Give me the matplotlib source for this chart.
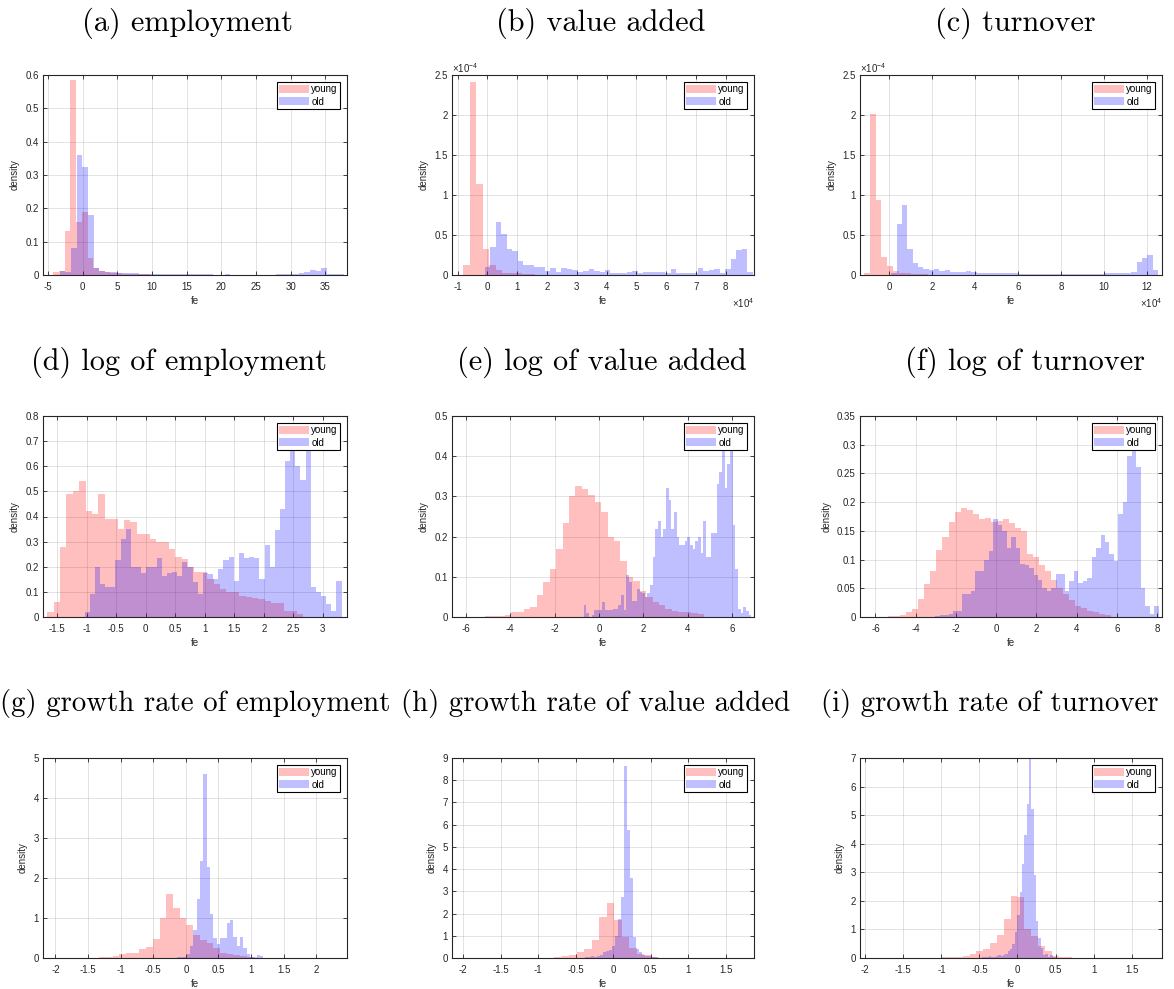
import numpy as np
import matplotlib.pyplot as plt
from matplotlib.ticker import FuncFormatter

plt.rcParams['font.family'] = ['Liberation Sans', 'DejaVu Sans']
plt.rcParams['axes.unicode_minus'] = False
plt.rcParams['mathtext.fontset'] = 'custom'
plt.rcParams['mathtext.rm'] = 'Liberation Sans'
plt.rcParams['mathtext.it'] = 'Liberation Sans:italic'

# histogram densities: (bin start, bin width, heights)
# (a) employment
a_young_bins = (-4.2, 0.82)
a_young = [0.01, 0.012, 0.133, 0.585, 0.16, 0.19, 0.05, 0.02, 0.012, 0.008,
           0.006, 0.005, 0.004, 0.003, 0.003, 0.002, 0.002, 0.001]
a_old_bins = (-3.3, 0.82)
a_old = [0.012, 0.01, 0.08, 0.36, 0.325, 0.18, 0.022, 0.012, 0.01, 0.008,
         0.007, 0.006, 0.006, 0.005, 0.004, 0.004, 0.004, 0.003, 0.003, 0.003,
         0.002, 0.003, 0.002, 0.002, 0.002, 0.003, 0.002, 0.001, 0.001, 0.002,
         0.001, 0.001, 0.001, 0.001, 0.001, 0.001, 0.001, 0.001, 0.002, 0.002,
         0.003, 0.004, 0.007, 0.01, 0.015, 0.013, 0.02, 0.003, 0.003, 0.002]

# (b) value added  (x in units of 1e4, density in units of 1e-4)
b_young_bins = (-0.82e4, 0.22e4)
b_young = np.array([0.13, 2.41, 1.14, 0.33, 0.13, 0.06, 0.03, 0.03, 0.02, 0.01,
                    0.01, 0.005]) * 1e-4
b_old_bins = (-0.09e4, 0.1835e4)
b_old = np.array([0.1, 0.35, 0.66, 0.51, 0.32, 0.3, 0.17, 0.12, 0.13, 0.1,
                  0.1, 0.05, 0.09, 0.04, 0.09, 0.07, 0.06, 0.04, 0.05, 0.07,
                  0.05, 0.04, 0.06, 0.03, 0.03, 0.03, 0.04, 0.05, 0.03, 0.04,
                  0.04, 0.04, 0.04, 0.03, 0.07, 0.03, 0.03, 0.03, 0.03, 0.09,
                  0.05, 0.06, 0.07, 0.03, 0.07, 0.2, 0.31, 0.32, 0.04]) * 1e-4

# (c) turnover
c_young_bins = (-1.16e4, 0.27e4)
c_young = np.array([0.03, 2.01, 0.94, 0.22, 0.11, 0.05, 0.03, 0.02, 0.015, 0.01,
                    0.01, 0.005]) * 1e-4
c_old_bins = (0.11e4, 0.248e4)
c_old = np.array([0.03, 0.64, 0.88, 0.33, 0.15, 0.1, 0.08, 0.06, 0.07, 0.05,
                  0.06, 0.04, 0.04, 0.04, 0.05, 0.04, 0.02, 0.02, 0.03, 0.03,
                  0.02, 0.03, 0.02, 0.02, 0.015, 0.015, 0.015, 0.01, 0.015, 0.01,
                  0.01, 0.015, 0.01, 0.01, 0.015, 0.01, 0.01, 0.015, 0.01, 0.01,
                  0.02, 0.02, 0.02, 0.03, 0.03, 0.04, 0.16, 0.21, 0.25, 0.06]) * 1e-4

# (d) log of employment
d_young_bins = (-1.67, 0.1085)
d_young = [0.02, 0.06, 0.28, 0.49, 0.5, 0.54, 0.42, 0.41, 0.49, 0.39,
           0.39, 0.35, 0.385, 0.38, 0.33, 0.33, 0.31, 0.3, 0.3, 0.27,
           0.24, 0.23, 0.2, 0.18, 0.18, 0.15, 0.13, 0.11, 0.1, 0.1,
           0.085, 0.08, 0.075, 0.07, 0.065, 0.055, 0.055, 0.025, 0.025, 0.01]
d_old_bins = (-1.036, 0.0871)
d_old = [0.02, 0.09, 0.2, 0.13, 0.12, 0.12, 0.225, 0.31, 0.35, 0.2,
         0.2, 0.175, 0.2, 0.2, 0.235, 0.165, 0.175, 0.18, 0.165, 0.22,
         0.2, 0.14, 0.09, 0.175, 0.17, 0.15, 0.19, 0.225, 0.24, 0.145,
         0.255, 0.235, 0.24, 0.235, 0.15, 0.285, 0.2, 0.345, 0.43, 0.62,
         0.69, 0.6, 0.545, 0.7, 0.12, 0.1, 0.085, 0.05, 0.025, 0.145]

# (e) log of value added
e_young_bins = (-5.42, 0.29)
e_young = [0.001, 0.002, 0.002, 0.003, 0.006, 0.012, 0.013, 0.02, 0.026, 0.055,
           0.087, 0.12, 0.17, 0.233, 0.3, 0.325, 0.318, 0.303, 0.285, 0.26,
           0.2, 0.19, 0.14, 0.1, 0.09, 0.065, 0.05, 0.037, 0.03, 0.02,
           0.015, 0.013, 0.012, 0.01, 0.008]
e_old_bins = (-0.7, 0.12)
e_old = [0.03, 0.01, 0.0, 0.005, 0.018, 0.018, 0.018, 0.037, 0.018, 0.018,
         0.018, 0.02, 0.02, 0.03, 0.055, 0.018, 0.105, 0.088, 0.04, 0.04,
         0.07, 0.062, 0.06, 0.05, 0.06, 0.08, 0.15, 0.22, 0.24, 0.2,
         0.22, 0.32, 0.29, 0.22, 0.26, 0.2, 0.18, 0.18, 0.19, 0.2,
         0.18, 0.17, 0.19, 0.2, 0.16, 0.24, 0.15, 0.15, 0.21, 0.21,
         0.33, 0.36, 0.43, 0.32, 0.38, 0.43, 0.23, 0.12, 0.02, 0.01,
         0.025, 0.015, 0.005]

# (f) log of turnover
f_young_bins = (-5.37, 0.3)
f_young = [0.001, 0.002, 0.003, 0.008, 0.014, 0.032, 0.058, 0.08, 0.116, 0.14,
           0.165, 0.183, 0.19, 0.187, 0.18, 0.17, 0.172, 0.165, 0.168, 0.17,
           0.163, 0.155, 0.15, 0.11, 0.105, 0.09, 0.08, 0.065, 0.05, 0.04,
           0.03, 0.02, 0.016, 0.01, 0.008, 0.006, 0.003]
f_old_bins = (-3.03, 0.222)
f_old = [0.002, 0.003, 0.003, 0.005, 0.01, 0.01, 0.04, 0.04, 0.045, 0.08,
         0.08, 0.1, 0.115, 0.17, 0.16, 0.15, 0.12, 0.14, 0.12, 0.093,
         0.09, 0.085, 0.074, 0.065, 0.05, 0.045, 0.05, 0.075, 0.075, 0.045,
         0.063, 0.08, 0.06, 0.063, 0.068, 0.105, 0.12, 0.142, 0.13, 0.11,
         0.097, 0.18, 0.2, 0.28, 0.29, 0.262, 0.05, 0.02, 0.005, 0.02]

# (g) growth rate of employment
g_young_bins = (-1.33, 0.103)
g_young = [0.03, 0.03, 0.05, 0.1, 0.12, 0.13, 0.23, 0.28, 0.48, 1.0,
           1.6, 1.25, 1.0, 0.82, 0.58, 0.45, 0.38, 0.25, 0.13, 0.1,
           0.07, 0.04, 0.02, 0.01]
g_old_bins = (-0.14, 0.051)
g_old = [0.02, 0.02, 0.03, 0.1, 0.3, 0.7, 1.47, 2.43, 4.6, 2.28,
         1.1, 0.5, 0.35, 0.5, 0.5, 0.88, 0.95, 0.52, 0.3, 0.52,
         0.25, 0.1, 0.02, 0.02, 0.08, 0.05, 0.01, 0.01, 0.01, 0.005, 0.005]

# (h) growth rate of value added
h_young_bins = (-0.987, 0.1)
h_young = [0.01, 0.02, 0.05, 0.07, 0.12, 0.25, 0.42, 0.8, 1.85, 2.47,
           1.7, 0.95, 0.45, 0.2, 0.12, 0.05, 0.02, 0.01]
h_old_bins = (-0.42, 0.04)
h_old = [0.02, 0.05, 0.03, 0.08, 0.05, 0.1, 0.15, 0.25, 0.3, 0.35,
         0.55, 1.0, 1.75, 2.75, 8.65, 5.78, 3.6, 0.95, 0.4, 0.25,
         0.15, 0.1, 0.07, 0.05, 0.03, 0.02, 0.02, 0.01, 0.01, 0.01,
         0.005, 0.005, 0.005, 0.005, 0.0, 0.005, 0.0, 0.0, 0.005, 0.0,
         0.0, 0.0, 0.0, 0.0, 0.0, 0.0, 0.0, 0.0, 0.0, 0.0,
         0.0, 0.0, 0.0, 0.0, 0.0, 0.0, 0.0, 0.0, 0.0, 0.1]

# (i) growth rate of turnover
i_young_bins = (-1.08, 0.09)
i_young = [0.01, 0.02, 0.03, 0.05, 0.07, 0.15, 0.25, 0.32, 0.52, 0.8,
           1.38, 2.18, 2.12, 1.0, 0.78, 0.43, 0.25, 0.08, 0.05, 0.02, 0.01]
i_old_bins = (-0.5, 0.031)
i_old = [0.01, 0.05, 0.02, 0.03, 0.06, 0.03, 0.05, 0.08, 0.1, 0.08,
         0.12, 0.15, 0.25, 0.3, 0.5, 0.9, 1.5, 2.3, 3.3, 4.3,
         5.4, 6.97, 5.2, 2.9, 1.3, 0.7, 0.35, 0.12, 0.15, 0.05,
         0.1, 0.03, 0.02, 0.01]

titles = ['(a) employment', '(b) value added', '(c) turnover',
          '(d) log of employment', '(e) log of value added', '(f) log of turnover',
          '(g) growth rate of employment', '(h) growth rate of value added',
          '(i) growth rate of turnover']

panels = [
    dict(young=(a_young_bins, a_young), old=(a_old_bins, a_old),
         xlim=(-5.7, 38.1), xticks=np.arange(-5, 36, 5), ylim=(0, 0.6),
         yticks=np.arange(0, 0.61, 0.1)),
    dict(young=(b_young_bins, b_young), old=(b_old_bins, b_old),
         xlim=(-1.19e4, 8.95e4), xticks=np.arange(-1, 9) * 1e4, ylim=(0, 2.5e-4),
         yticks=np.arange(0, 2.51, 0.5) * 1e-4, sci=True),
    dict(young=(c_young_bins, c_young), old=(c_old_bins, c_old),
         xlim=(-1.35e4, 12.7e4), xticks=np.arange(0, 13, 2) * 1e4, ylim=(0, 2.5e-4),
         yticks=np.arange(0, 2.51, 0.5) * 1e-4, sci=True),
    dict(young=(d_young_bins, d_young), old=(d_old_bins, d_old),
         xlim=(-1.74, 3.41), xticks=np.arange(-1.5, 3.01, 0.5), ylim=(0, 0.8),
         yticks=np.arange(0, 0.81, 0.1)),
    dict(young=(e_young_bins, e_young), old=(e_old_bins, e_old),
         xlim=(-6.63, 6.98), xticks=np.arange(-6, 7, 2), ylim=(0, 0.5),
         yticks=np.arange(0, 0.51, 0.1)),
    dict(young=(f_young_bins, f_young), old=(f_old_bins, f_old),
         xlim=(-6.77, 8.24), xticks=np.arange(-6, 9, 2), ylim=(0, 0.35),
         yticks=np.arange(0, 0.351, 0.05)),
    dict(young=(g_young_bins, g_young), old=(g_old_bins, g_old),
         xlim=(-2.19, 2.47), xticks=np.arange(-2, 2.01, 0.5), ylim=(0, 5),
         yticks=np.arange(0, 6)),
    dict(young=(h_young_bins, h_young), old=(h_old_bins, h_old),
         xlim=(-2.15, 1.88), xticks=np.arange(-2, 1.51, 0.5), ylim=(0, 9),
         yticks=np.arange(0, 10)),
    dict(young=(i_young_bins, i_young), old=(i_old_bins, i_old),
         xlim=(-2.07, 1.9), xticks=np.arange(-2, 1.51, 0.5), ylim=(0, 7),
         yticks=np.arange(0, 8)),
]

W, H = 1174, 989
fig = plt.figure(figsize=(W / 100, H / 100), dpi=100)

col_x = [(43, 347), (452, 754), (860, 1162)]
row_y = [(75, 275), (416, 617), (758, 958)]
title_xy = [(187, 23), (601, 23), (1015, 23),
            (179, 362), (602, 362), (1025, 362),
            (195, 703), (596, 703), (990, 703)]
title_fs = [21.8, 21.8, 21.8, 21.8, 21.8, 21.8, 20.8, 20.8, 20.8]

dark = '#262626'
fs = 7


def edges_of(bins, h):
    start, width = bins
    return start + width * np.arange(len(h) + 1)


for k, p in enumerate(panels):
    r, c = divmod(k, 3)
    x0, x1 = col_x[c]
    y0, y1 = row_y[r]
    ax = fig.add_axes([x0 / W, 1 - y1 / H, (x1 - x0) / W, (y1 - y0) / H])

    yb, yh = p['young']
    ob, oh = p['old']
    ax.stairs(yh, edges_of(yb, yh), fill=True, color='red', alpha=0.25,
              linewidth=0, label='young')
    ax.stairs(oh, edges_of(ob, oh), fill=True, color='blue', alpha=0.25,
              linewidth=0, label='old')

    ax.set_xlim(p['xlim'])
    ax.set_ylim(p['ylim'])
    ax.set_xticks(p['xticks'])
    ax.set_yticks(p['yticks'])
    if p.get('sci'):
        ax.xaxis.set_major_formatter(FuncFormatter(lambda v, _: f'{round(v / 1e4, 6):g}'))
        ax.yaxis.set_major_formatter(FuncFormatter(lambda v, _: f'{round(v / 1e-4, 6):g}'))
        ax.text(0.0, 1.035, r'$\times10^{-4}$', transform=ax.transAxes,
                fontsize=fs, color=dark, ha='left', va='center')
        ax.text(1.0, -0.14, r'$\times10^{4}$', transform=ax.transAxes,
                fontsize=fs, color=dark, ha='right', va='center')
    else:
        ax.xaxis.set_major_formatter(FuncFormatter(lambda v, _: f'{round(v, 6):g}'))
        ax.yaxis.set_major_formatter(FuncFormatter(lambda v, _: f'{round(v, 6):g}'))

    ax.tick_params(direction='in', top=True, right=True, length=3, width=0.6,
                   labelsize=fs, colors=dark)
    ax.tick_params(axis='x', pad=5)
    ax.tick_params(axis='y', pad=3)
    for s in ax.spines.values():
        s.set_color(dark)
        s.set_linewidth(0.8)
    ax.grid(True, color=dark, alpha=0.15, linewidth=0.6)
    ax.set_axisbelow(True)
    ax.set_xlabel('fe', fontsize=fs, color=dark, labelpad=3)
    ax.set_ylabel('density', fontsize=fs, color=dark, labelpad=4)

    leg = ax.legend(loc='upper right', fontsize=fs, fancybox=False,
                    edgecolor='black', framealpha=1, borderpad=0.2,
                    handlelength=3.1, handleheight=0.85, labelspacing=0.25,
                    handletextpad=0.2, borderaxespad=0.75)
    leg.get_frame().set_linewidth(0.8)

    tx, ty = title_xy[k]
    fig.text(tx / W, 1 - ty / H, titles[k], fontfamily='cmr10', fontsize=title_fs[k],
             ha='center', va='center', color='black')

fig.savefig('out.png', dpi=100)
